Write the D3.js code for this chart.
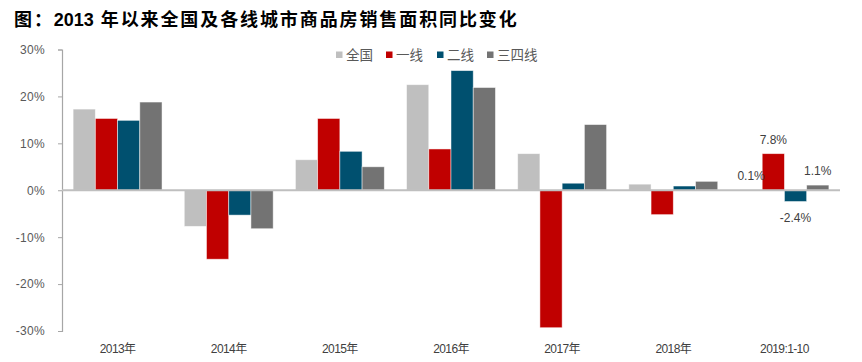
<!DOCTYPE html>
<html>
<head>
<meta charset="utf-8">
<script src="https://cdn.jsdelivr.net/npm/d3@7"></script>
<style>
  html, body { margin: 0; padding: 0; background: #fff; }
  svg { display: block; }
</style>
</head>
<body>
<svg id="chart" width="862" height="362"></svg>
<script>
const categories = ["2013年", "2014年", "2015年", "2016年", "2017年", "2018年", "2019:1-10"];
const seriesNames = ["全国", "一线", "二线", "三四线"];
const seriesColors = ["#BFBFBF", "#C00000", "#00506F", "#737373"];
const valuesNational = [17.3, -7.7, 6.5, 22.5, 7.8, 1.3, 0.1];
const valuesTier1 = [15.3, -14.7, 15.3, 8.8, -29.3, -5.2, 7.8];
const valuesTier2 = [14.9, -5.3, 8.3, 25.5, 1.5, 0.9, -2.4];
const valuesTier34 = [18.8, -8.2, 5.0, 21.9, 14.0, 1.9, 1.1];
const yTicks = [30, 20, 10, 0, -10, -20, -30];
const labelledCategory = "2019:1-10";
const titleParts = ["图：", "2013", " 年以来全国及各线城市商品房销售面积同比变化"];

const seriesValues = [valuesNational, valuesTier1, valuesTier2, valuesTier34];
const svg = d3.select("#chart");

const x0 = d3.scaleBand().domain(categories).range([62, 840]).paddingInner(0.2).paddingOuter(0.1);
const x1 = d3.scaleBand().domain(seriesNames).range([0, x0.bandwidth()]).padding(0);
const y = d3.scaleLinear().domain([-30, 30]).range([331, 49.5]);

// Title
const t = svg.append("text")
  .attr("x", 14).attr("y", 26)
  .attr("font-family", "'Liberation Sans', 'Noto Sans CJK SC', sans-serif")
  .attr("font-weight", "bold")
  .attr("font-size", 18)
  .attr("fill", "#000");
t.selectAll("tspan").data(titleParts).join("tspan")
  .attr("letter-spacing", (d, i) => i === 1 ? 0 : 1.9)
  .text(d => d);

// Y axis
const yAxis = d3.axisLeft(y).tickValues(yTicks).tickSize(4).tickPadding(13)
  .tickFormat(d => d + "%");
const gy = svg.append("g").attr("transform", "translate(62,0)").call(yAxis);
gy.select(".domain").attr("stroke", "#A6A6A6").attr("stroke-width", 1.2);
gy.selectAll(".tick line").attr("stroke", "#A6A6A6");
gy.selectAll(".tick text")
  .attr("font-family", "'Liberation Sans', sans-serif")
  .attr("font-size", 12)
  .attr("letter-spacing", 0.3)
  .attr("fill", "#595959");

// Bars
const groups = svg.append("g").selectAll("g")
  .data(categories)
  .join("g")
  .attr("transform", d => `translate(${x0(d)},0)`);

groups.selectAll("rect")
  .data((c, ci) => seriesNames.map((s, si) => ({ s, si, c, v: seriesValues[si][ci] })))
  .join("rect")
  .attr("x", d => x1(d.s))
  .attr("width", x1.bandwidth())
  .attr("y", d => y(Math.max(0, d.v)))
  .attr("height", d => Math.abs(y(d.v) - y(0)))
  .attr("fill", d => seriesColors[d.si])
  .attr("stroke", "#ffffff")
  .attr("stroke-opacity", 0.6)
  .attr("stroke-width", 0.8);

// Zero line
svg.append("line")
  .attr("x1", 62).attr("x2", 840)
  .attr("y1", y(0)).attr("y2", y(0))
  .attr("stroke", "#BFBFBF").attr("stroke-width", 2);

// X axis labels
const xAxis = d3.axisBottom(x0).tickSize(0).tickPadding(0);
const gx = svg.append("g").attr("transform", "translate(0,349)").call(xAxis);
gx.select(".domain").remove();
gx.selectAll(".tick text")
  .attr("dy", "0.35em")
  .attr("font-family", "'Liberation Sans', 'Noto Sans CJK SC', sans-serif")
  .attr("font-size", 12)
  .attr("letter-spacing", -0.6)
  .attr("fill", "#404040");

// Data labels for last category
const ci = categories.indexOf(labelledCategory);
svg.append("g").selectAll("text")
  .data(seriesNames.map((s, si) => ({ s, si, v: seriesValues[si][ci] })))
  .join("text")
  .attr("x", d => x0(labelledCategory) + x1(d.s) + x1.bandwidth() / 2)
  .attr("y", d => d.v >= 0 ? y(d.v) - 14 : y(d.v) + 16)
  .attr("dy", "0.35em")
  .attr("text-anchor", "middle")
  .attr("font-family", "'Liberation Sans', sans-serif")
  .attr("font-size", 12)
  .attr("fill", "#404040")
  .text(d => d.v.toFixed(1) + "%");

// Legend
const legendX = [336, 386, 437, 487];
const legend = svg.append("g").selectAll("g")
  .data(seriesNames)
  .join("g")
  .attr("transform", (d, i) => `translate(${legendX[i]},52)`);
legend.append("rect")
  .attr("x", 0).attr("y", -0.5).attr("width", 6.5).attr("height", 6.5)
  .attr("fill", (d, i) => seriesColors[i]);
legend.append("text")
  .attr("x", 10).attr("y", 3).attr("dy", "0.35em")
  .attr("font-family", "'Noto Sans CJK SC', sans-serif")
  .attr("font-size", 13.5)
  .attr("fill", "#595959")
  .text(d => d);
</script>
</body>
</html>
